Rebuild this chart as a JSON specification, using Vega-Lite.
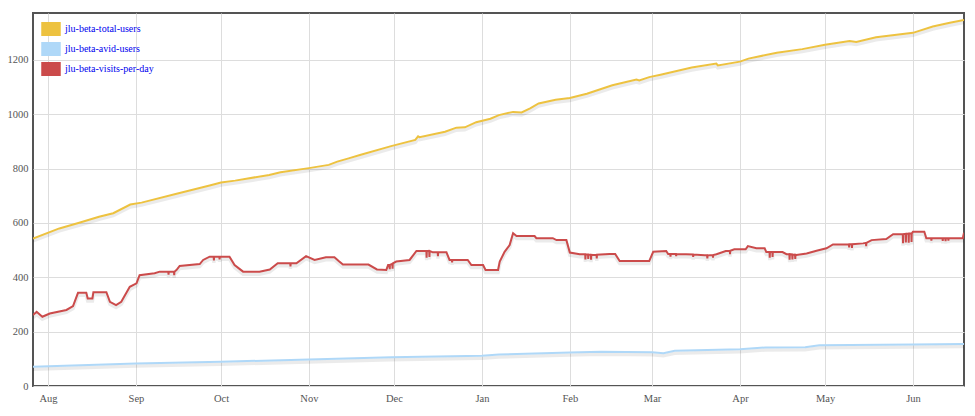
{
  "$schema": "https://vega.github.io/schema/vega-lite/v6.json",
  "width": 931,
  "height": 373,
  "autosize": {"type": "none"},
  "padding": {"left": 33, "top": 13, "right": 11, "bottom": 30},
  "background": "white",
  "config": {
    "view": {"stroke": "#545454", "strokeWidth": 2},
    "axis": {"labelFont": "Liberation Serif, Times New Roman, serif", "labelFontSize": 10.5, "labelColor": "#545454", "gridColor": "#dddddd", "gridWidth": 1, "domain": false, "ticks": false, "title": null}
  },
  "datasets": {
    "series": [
      {"date": "2011-07-26T17:00Z", "series": "jlu-beta-total-users", "value": 543},
      {"date": "2011-08-05", "series": "jlu-beta-total-users", "value": 580},
      {"date": "2011-08-12", "series": "jlu-beta-total-users", "value": 601},
      {"date": "2011-08-19", "series": "jlu-beta-total-users", "value": 623},
      {"date": "2011-08-24", "series": "jlu-beta-total-users", "value": 636},
      {"date": "2011-08-30", "series": "jlu-beta-total-users", "value": 668},
      {"date": "2011-09-03", "series": "jlu-beta-total-users", "value": 675},
      {"date": "2011-09-15", "series": "jlu-beta-total-users", "value": 707},
      {"date": "2011-09-27", "series": "jlu-beta-total-users", "value": 738},
      {"date": "2011-10-01", "series": "jlu-beta-total-users", "value": 749},
      {"date": "2011-10-06", "series": "jlu-beta-total-users", "value": 756},
      {"date": "2011-10-18", "series": "jlu-beta-total-users", "value": 777},
      {"date": "2011-10-22", "series": "jlu-beta-total-users", "value": 787},
      {"date": "2011-11-01", "series": "jlu-beta-total-users", "value": 802},
      {"date": "2011-11-08", "series": "jlu-beta-total-users", "value": 814},
      {"date": "2011-11-11", "series": "jlu-beta-total-users", "value": 826},
      {"date": "2011-11-15", "series": "jlu-beta-total-users", "value": 838},
      {"date": "2011-11-19", "series": "jlu-beta-total-users", "value": 850},
      {"date": "2011-11-30", "series": "jlu-beta-total-users", "value": 883},
      {"date": "2011-12-08T12:00Z", "series": "jlu-beta-total-users", "value": 906},
      {"date": "2011-12-09T12:00Z", "series": "jlu-beta-total-users", "value": 919},
      {"date": "2011-12-10", "series": "jlu-beta-total-users", "value": 916},
      {"date": "2011-12-19", "series": "jlu-beta-total-users", "value": 936},
      {"date": "2011-12-23", "series": "jlu-beta-total-users", "value": 951},
      {"date": "2011-12-26", "series": "jlu-beta-total-users", "value": 952},
      {"date": "2011-12-30", "series": "jlu-beta-total-users", "value": 971},
      {"date": "2012-01-04", "series": "jlu-beta-total-users", "value": 984},
      {"date": "2012-01-07", "series": "jlu-beta-total-users", "value": 997},
      {"date": "2012-01-12", "series": "jlu-beta-total-users", "value": 1009},
      {"date": "2012-01-15", "series": "jlu-beta-total-users", "value": 1007},
      {"date": "2012-01-18", "series": "jlu-beta-total-users", "value": 1022},
      {"date": "2012-01-21", "series": "jlu-beta-total-users", "value": 1040},
      {"date": "2012-01-27", "series": "jlu-beta-total-users", "value": 1054},
      {"date": "2012-02-01", "series": "jlu-beta-total-users", "value": 1060},
      {"date": "2012-02-07", "series": "jlu-beta-total-users", "value": 1076},
      {"date": "2012-02-16", "series": "jlu-beta-total-users", "value": 1107},
      {"date": "2012-02-24T12:00Z", "series": "jlu-beta-total-users", "value": 1128},
      {"date": "2012-02-25T12:00Z", "series": "jlu-beta-total-users", "value": 1125},
      {"date": "2012-02-29", "series": "jlu-beta-total-users", "value": 1137},
      {"date": "2012-03-04", "series": "jlu-beta-total-users", "value": 1146},
      {"date": "2012-03-15", "series": "jlu-beta-total-users", "value": 1172},
      {"date": "2012-03-23T16:00Z", "series": "jlu-beta-total-users", "value": 1187},
      {"date": "2012-03-24T05:00Z", "series": "jlu-beta-total-users", "value": 1180},
      {"date": "2012-04-01", "series": "jlu-beta-total-users", "value": 1194},
      {"date": "2012-04-04", "series": "jlu-beta-total-users", "value": 1205},
      {"date": "2012-04-14", "series": "jlu-beta-total-users", "value": 1227},
      {"date": "2012-04-23", "series": "jlu-beta-total-users", "value": 1240},
      {"date": "2012-05-01", "series": "jlu-beta-total-users", "value": 1256},
      {"date": "2012-05-09T16:00Z", "series": "jlu-beta-total-users", "value": 1270},
      {"date": "2012-05-12", "series": "jlu-beta-total-users", "value": 1266},
      {"date": "2012-05-19", "series": "jlu-beta-total-users", "value": 1284},
      {"date": "2012-06-01", "series": "jlu-beta-total-users", "value": 1300},
      {"date": "2012-06-08", "series": "jlu-beta-total-users", "value": 1323},
      {"date": "2012-06-14", "series": "jlu-beta-total-users", "value": 1337},
      {"date": "2012-06-19", "series": "jlu-beta-total-users", "value": 1347},

      {"date": "2011-07-26T17:00Z", "series": "jlu-beta-avid-users", "value": 71},
      {"date": "2011-09-01", "series": "jlu-beta-avid-users", "value": 83},
      {"date": "2011-10-01", "series": "jlu-beta-avid-users", "value": 89},
      {"date": "2011-11-01", "series": "jlu-beta-avid-users", "value": 98},
      {"date": "2011-11-30", "series": "jlu-beta-avid-users", "value": 106},
      {"date": "2012-01-01", "series": "jlu-beta-avid-users", "value": 111},
      {"date": "2012-01-07", "series": "jlu-beta-avid-users", "value": 116},
      {"date": "2012-02-01", "series": "jlu-beta-avid-users", "value": 123},
      {"date": "2012-02-12", "series": "jlu-beta-avid-users", "value": 126},
      {"date": "2012-03-01", "series": "jlu-beta-avid-users", "value": 124},
      {"date": "2012-03-05", "series": "jlu-beta-avid-users", "value": 121},
      {"date": "2012-03-09", "series": "jlu-beta-avid-users", "value": 130},
      {"date": "2012-04-01", "series": "jlu-beta-avid-users", "value": 135},
      {"date": "2012-04-10", "series": "jlu-beta-avid-users", "value": 142},
      {"date": "2012-04-24", "series": "jlu-beta-avid-users", "value": 143},
      {"date": "2012-04-29", "series": "jlu-beta-avid-users", "value": 150},
      {"date": "2012-06-01", "series": "jlu-beta-avid-users", "value": 153},
      {"date": "2012-06-19", "series": "jlu-beta-avid-users", "value": 155},

      {"date": "2011-07-26T17:00Z", "series": "jlu-beta-visits-per-day", "value": 261},
      {"date": "2011-07-28", "series": "jlu-beta-visits-per-day", "value": 273},
      {"date": "2011-07-30", "series": "jlu-beta-visits-per-day", "value": 255},
      {"date": "2011-08-01T15:00Z", "series": "jlu-beta-visits-per-day", "value": 267},
      {"date": "2011-08-07T12:00Z", "series": "jlu-beta-visits-per-day", "value": 280},
      {"date": "2011-08-09T20:00Z", "series": "jlu-beta-visits-per-day", "value": 294},
      {"date": "2011-08-11T14:00Z", "series": "jlu-beta-visits-per-day", "value": 343},
      {"date": "2011-08-14T12:00Z", "series": "jlu-beta-visits-per-day", "value": 343},
      {"date": "2011-08-15", "series": "jlu-beta-visits-per-day", "value": 322},
      {"date": "2011-08-16T16:00Z", "series": "jlu-beta-visits-per-day", "value": 322},
      {"date": "2011-08-17", "series": "jlu-beta-visits-per-day", "value": 345},
      {"date": "2011-08-21T14:00Z", "series": "jlu-beta-visits-per-day", "value": 345},
      {"date": "2011-08-22T20:00Z", "series": "jlu-beta-visits-per-day", "value": 310},
      {"date": "2011-08-25", "series": "jlu-beta-visits-per-day", "value": 298},
      {"date": "2011-08-26T20:00Z", "series": "jlu-beta-visits-per-day", "value": 310},
      {"date": "2011-08-29T20:00Z", "series": "jlu-beta-visits-per-day", "value": 365},
      {"date": "2011-09-01T05:00Z", "series": "jlu-beta-visits-per-day", "value": 378},
      {"date": "2011-09-02T07:00Z", "series": "jlu-beta-visits-per-day", "value": 408},
      {"date": "2011-09-07T14:00Z", "series": "jlu-beta-visits-per-day", "value": 415},
      {"date": "2011-09-09T10:00Z", "series": "jlu-beta-visits-per-day", "value": 421},
      {"date": "2011-09-12T10:00Z", "series": "jlu-beta-visits-per-day", "value": 421},
      {"date": "2011-09-12T12:00Z", "series": "jlu-beta-visits-per-day", "value": 410},
      {"date": "2011-09-12T14:00Z", "series": "jlu-beta-visits-per-day", "value": 421},
      {"date": "2011-09-14T10:00Z", "series": "jlu-beta-visits-per-day", "value": 421},
      {"date": "2011-09-14T12:00Z", "series": "jlu-beta-visits-per-day", "value": 408},
      {"date": "2011-09-14T14:00Z", "series": "jlu-beta-visits-per-day", "value": 421},
      {"date": "2011-09-15T07:00Z", "series": "jlu-beta-visits-per-day", "value": 427},
      {"date": "2011-09-16T10:00Z", "series": "jlu-beta-visits-per-day", "value": 442},
      {"date": "2011-09-23T12:00Z", "series": "jlu-beta-visits-per-day", "value": 449},
      {"date": "2011-09-24T17:00Z", "series": "jlu-beta-visits-per-day", "value": 464},
      {"date": "2011-09-27", "series": "jlu-beta-visits-per-day", "value": 476},
      {"date": "2011-09-28T10:00Z", "series": "jlu-beta-visits-per-day", "value": 476},
      {"date": "2011-09-28T12:00Z", "series": "jlu-beta-visits-per-day", "value": 462},
      {"date": "2011-09-28T14:00Z", "series": "jlu-beta-visits-per-day", "value": 476},
      {"date": "2011-09-30T10:00Z", "series": "jlu-beta-visits-per-day", "value": 476},
      {"date": "2011-09-30T12:00Z", "series": "jlu-beta-visits-per-day", "value": 466},
      {"date": "2011-09-30T14:00Z", "series": "jlu-beta-visits-per-day", "value": 476},
      {"date": "2011-10-04", "series": "jlu-beta-visits-per-day", "value": 476},
      {"date": "2011-10-05T19:00Z", "series": "jlu-beta-visits-per-day", "value": 445},
      {"date": "2011-10-08T19:00Z", "series": "jlu-beta-visits-per-day", "value": 421},
      {"date": "2011-10-14T14:00Z", "series": "jlu-beta-visits-per-day", "value": 421},
      {"date": "2011-10-18T05:00Z", "series": "jlu-beta-visits-per-day", "value": 429},
      {"date": "2011-10-21", "series": "jlu-beta-visits-per-day", "value": 452},
      {"date": "2011-10-25T10:00Z", "series": "jlu-beta-visits-per-day", "value": 452},
      {"date": "2011-10-25T12:00Z", "series": "jlu-beta-visits-per-day", "value": 440},
      {"date": "2011-10-25T14:00Z", "series": "jlu-beta-visits-per-day", "value": 452},
      {"date": "2011-10-27T14:00Z", "series": "jlu-beta-visits-per-day", "value": 452},
      {"date": "2011-10-31", "series": "jlu-beta-visits-per-day", "value": 478},
      {"date": "2011-11-03", "series": "jlu-beta-visits-per-day", "value": 464},
      {"date": "2011-11-07", "series": "jlu-beta-visits-per-day", "value": 474},
      {"date": "2011-11-10", "series": "jlu-beta-visits-per-day", "value": 474},
      {"date": "2011-11-11T12:00Z", "series": "jlu-beta-visits-per-day", "value": 460},
      {"date": "2011-11-13", "series": "jlu-beta-visits-per-day", "value": 447},
      {"date": "2011-11-22", "series": "jlu-beta-visits-per-day", "value": 447},
      {"date": "2011-11-25", "series": "jlu-beta-visits-per-day", "value": 429},
      {"date": "2011-11-28T07:00Z", "series": "jlu-beta-visits-per-day", "value": 427},
      {"date": "2011-11-28T22:00Z", "series": "jlu-beta-visits-per-day", "value": 445},
      {"date": "2011-11-29T10:00Z", "series": "jlu-beta-visits-per-day", "value": 445},
      {"date": "2011-11-29T12:00Z", "series": "jlu-beta-visits-per-day", "value": 430},
      {"date": "2011-11-29T14:00Z", "series": "jlu-beta-visits-per-day", "value": 446},
      {"date": "2011-11-30T10:00Z", "series": "jlu-beta-visits-per-day", "value": 450},
      {"date": "2011-11-30T12:00Z", "series": "jlu-beta-visits-per-day", "value": 432},
      {"date": "2011-11-30T14:00Z", "series": "jlu-beta-visits-per-day", "value": 451},
      {"date": "2011-12-01T19:00Z", "series": "jlu-beta-visits-per-day", "value": 458},
      {"date": "2011-12-06T12:00Z", "series": "jlu-beta-visits-per-day", "value": 464},
      {"date": "2011-12-08T22:00Z", "series": "jlu-beta-visits-per-day", "value": 497},
      {"date": "2011-12-12T10:00Z", "series": "jlu-beta-visits-per-day", "value": 497},
      {"date": "2011-12-12T12:00Z", "series": "jlu-beta-visits-per-day", "value": 472},
      {"date": "2011-12-12T14:00Z", "series": "jlu-beta-visits-per-day", "value": 497},
      {"date": "2011-12-13T10:00Z", "series": "jlu-beta-visits-per-day", "value": 497},
      {"date": "2011-12-13T12:00Z", "series": "jlu-beta-visits-per-day", "value": 475},
      {"date": "2011-12-13T14:00Z", "series": "jlu-beta-visits-per-day", "value": 497},
      {"date": "2011-12-14T17:00Z", "series": "jlu-beta-visits-per-day", "value": 492},
      {"date": "2011-12-16T10:00Z", "series": "jlu-beta-visits-per-day", "value": 492},
      {"date": "2011-12-16T12:00Z", "series": "jlu-beta-visits-per-day", "value": 478},
      {"date": "2011-12-16T14:00Z", "series": "jlu-beta-visits-per-day", "value": 492},
      {"date": "2011-12-19T12:00Z", "series": "jlu-beta-visits-per-day", "value": 492},
      {"date": "2011-12-20T14:00Z", "series": "jlu-beta-visits-per-day", "value": 464},
      {"date": "2011-12-21T10:00Z", "series": "jlu-beta-visits-per-day", "value": 464},
      {"date": "2011-12-21T12:00Z", "series": "jlu-beta-visits-per-day", "value": 455},
      {"date": "2011-12-21T14:00Z", "series": "jlu-beta-visits-per-day", "value": 464},
      {"date": "2011-12-27", "series": "jlu-beta-visits-per-day", "value": 464},
      {"date": "2011-12-28T07:00Z", "series": "jlu-beta-visits-per-day", "value": 445},
      {"date": "2012-01-01T10:00Z", "series": "jlu-beta-visits-per-day", "value": 445},
      {"date": "2012-01-02T07:00Z", "series": "jlu-beta-visits-per-day", "value": 427},
      {"date": "2012-01-06T17:00Z", "series": "jlu-beta-visits-per-day", "value": 427},
      {"date": "2012-01-07T07:00Z", "series": "jlu-beta-visits-per-day", "value": 458},
      {"date": "2012-01-09", "series": "jlu-beta-visits-per-day", "value": 494},
      {"date": "2012-01-10T19:00Z", "series": "jlu-beta-visits-per-day", "value": 519},
      {"date": "2012-01-12", "series": "jlu-beta-visits-per-day", "value": 562},
      {"date": "2012-01-13T05:00Z", "series": "jlu-beta-visits-per-day", "value": 552},
      {"date": "2012-01-19T14:00Z", "series": "jlu-beta-visits-per-day", "value": 552},
      {"date": "2012-01-20T05:00Z", "series": "jlu-beta-visits-per-day", "value": 544},
      {"date": "2012-01-26", "series": "jlu-beta-visits-per-day", "value": 544},
      {"date": "2012-01-27T07:00Z", "series": "jlu-beta-visits-per-day", "value": 537},
      {"date": "2012-01-30T19:00Z", "series": "jlu-beta-visits-per-day", "value": 537},
      {"date": "2012-02-01", "series": "jlu-beta-visits-per-day", "value": 491},
      {"date": "2012-02-04T12:00Z", "series": "jlu-beta-visits-per-day", "value": 485},
      {"date": "2012-02-06T10:00Z", "series": "jlu-beta-visits-per-day", "value": 485},
      {"date": "2012-02-06T12:00Z", "series": "jlu-beta-visits-per-day", "value": 466},
      {"date": "2012-02-06T14:00Z", "series": "jlu-beta-visits-per-day", "value": 485},
      {"date": "2012-02-07T10:00Z", "series": "jlu-beta-visits-per-day", "value": 484},
      {"date": "2012-02-07T12:00Z", "series": "jlu-beta-visits-per-day", "value": 468},
      {"date": "2012-02-07T14:00Z", "series": "jlu-beta-visits-per-day", "value": 484},
      {"date": "2012-02-08T10:00Z", "series": "jlu-beta-visits-per-day", "value": 483},
      {"date": "2012-02-08T12:00Z", "series": "jlu-beta-visits-per-day", "value": 465},
      {"date": "2012-02-08T14:00Z", "series": "jlu-beta-visits-per-day", "value": 483},
      {"date": "2012-02-09T05:00Z", "series": "jlu-beta-visits-per-day", "value": 482},
      {"date": "2012-02-10T10:00Z", "series": "jlu-beta-visits-per-day", "value": 483},
      {"date": "2012-02-10T12:00Z", "series": "jlu-beta-visits-per-day", "value": 470},
      {"date": "2012-02-10T14:00Z", "series": "jlu-beta-visits-per-day", "value": 483},
      {"date": "2012-02-15", "series": "jlu-beta-visits-per-day", "value": 486},
      {"date": "2012-02-17", "series": "jlu-beta-visits-per-day", "value": 486},
      {"date": "2012-02-18T14:00Z", "series": "jlu-beta-visits-per-day", "value": 460},
      {"date": "2012-02-29", "series": "jlu-beta-visits-per-day", "value": 460},
      {"date": "2012-03-01T10:00Z", "series": "jlu-beta-visits-per-day", "value": 494},
      {"date": "2012-03-06", "series": "jlu-beta-visits-per-day", "value": 497},
      {"date": "2012-03-06T16:00Z", "series": "jlu-beta-visits-per-day", "value": 486},
      {"date": "2012-03-07T10:00Z", "series": "jlu-beta-visits-per-day", "value": 486},
      {"date": "2012-03-07T12:00Z", "series": "jlu-beta-visits-per-day", "value": 476},
      {"date": "2012-03-07T14:00Z", "series": "jlu-beta-visits-per-day", "value": 486},
      {"date": "2012-03-09T10:00Z", "series": "jlu-beta-visits-per-day", "value": 486},
      {"date": "2012-03-09T12:00Z", "series": "jlu-beta-visits-per-day", "value": 478},
      {"date": "2012-03-09T14:00Z", "series": "jlu-beta-visits-per-day", "value": 486},
      {"date": "2012-03-13", "series": "jlu-beta-visits-per-day", "value": 485},
      {"date": "2012-03-15T10:00Z", "series": "jlu-beta-visits-per-day", "value": 484},
      {"date": "2012-03-15T12:00Z", "series": "jlu-beta-visits-per-day", "value": 475},
      {"date": "2012-03-15T14:00Z", "series": "jlu-beta-visits-per-day", "value": 484},
      {"date": "2012-03-19T14:00Z", "series": "jlu-beta-visits-per-day", "value": 481},
      {"date": "2012-03-20T10:00Z", "series": "jlu-beta-visits-per-day", "value": 481},
      {"date": "2012-03-20T12:00Z", "series": "jlu-beta-visits-per-day", "value": 470},
      {"date": "2012-03-20T14:00Z", "series": "jlu-beta-visits-per-day", "value": 481},
      {"date": "2012-03-22T10:00Z", "series": "jlu-beta-visits-per-day", "value": 482},
      {"date": "2012-03-22T12:00Z", "series": "jlu-beta-visits-per-day", "value": 472},
      {"date": "2012-03-22T14:00Z", "series": "jlu-beta-visits-per-day", "value": 482},
      {"date": "2012-03-23T17:00Z", "series": "jlu-beta-visits-per-day", "value": 485},
      {"date": "2012-03-27", "series": "jlu-beta-visits-per-day", "value": 497},
      {"date": "2012-03-28T10:00Z", "series": "jlu-beta-visits-per-day", "value": 498},
      {"date": "2012-03-28T12:00Z", "series": "jlu-beta-visits-per-day", "value": 485},
      {"date": "2012-03-28T14:00Z", "series": "jlu-beta-visits-per-day", "value": 498},
      {"date": "2012-03-30", "series": "jlu-beta-visits-per-day", "value": 503},
      {"date": "2012-04-03", "series": "jlu-beta-visits-per-day", "value": 503},
      {"date": "2012-04-03T19:00Z", "series": "jlu-beta-visits-per-day", "value": 515},
      {"date": "2012-04-06T19:00Z", "series": "jlu-beta-visits-per-day", "value": 507},
      {"date": "2012-04-09T17:00Z", "series": "jlu-beta-visits-per-day", "value": 507},
      {"date": "2012-04-10T07:00Z", "series": "jlu-beta-visits-per-day", "value": 493},
      {"date": "2012-04-11T10:00Z", "series": "jlu-beta-visits-per-day", "value": 493},
      {"date": "2012-04-11T12:00Z", "series": "jlu-beta-visits-per-day", "value": 472},
      {"date": "2012-04-11T14:00Z", "series": "jlu-beta-visits-per-day", "value": 493},
      {"date": "2012-04-12T10:00Z", "series": "jlu-beta-visits-per-day", "value": 493},
      {"date": "2012-04-12T12:00Z", "series": "jlu-beta-visits-per-day", "value": 475},
      {"date": "2012-04-12T14:00Z", "series": "jlu-beta-visits-per-day", "value": 493},
      {"date": "2012-04-16", "series": "jlu-beta-visits-per-day", "value": 493},
      {"date": "2012-04-17T10:00Z", "series": "jlu-beta-visits-per-day", "value": 485},
      {"date": "2012-04-18T10:00Z", "series": "jlu-beta-visits-per-day", "value": 485},
      {"date": "2012-04-18T12:00Z", "series": "jlu-beta-visits-per-day", "value": 465},
      {"date": "2012-04-18T14:00Z", "series": "jlu-beta-visits-per-day", "value": 485},
      {"date": "2012-04-19T10:00Z", "series": "jlu-beta-visits-per-day", "value": 484},
      {"date": "2012-04-19T12:00Z", "series": "jlu-beta-visits-per-day", "value": 466},
      {"date": "2012-04-19T14:00Z", "series": "jlu-beta-visits-per-day", "value": 484},
      {"date": "2012-04-20T10:00Z", "series": "jlu-beta-visits-per-day", "value": 483},
      {"date": "2012-04-20T12:00Z", "series": "jlu-beta-visits-per-day", "value": 468},
      {"date": "2012-04-20T14:00Z", "series": "jlu-beta-visits-per-day", "value": 483},
      {"date": "2012-04-20T22:00Z", "series": "jlu-beta-visits-per-day", "value": 482},
      {"date": "2012-04-24T12:00Z", "series": "jlu-beta-visits-per-day", "value": 488},
      {"date": "2012-04-28", "series": "jlu-beta-visits-per-day", "value": 498},
      {"date": "2012-05-01T12:00Z", "series": "jlu-beta-visits-per-day", "value": 507},
      {"date": "2012-05-03T19:00Z", "series": "jlu-beta-visits-per-day", "value": 521},
      {"date": "2012-05-09T10:00Z", "series": "jlu-beta-visits-per-day", "value": 522},
      {"date": "2012-05-09T12:00Z", "series": "jlu-beta-visits-per-day", "value": 510},
      {"date": "2012-05-09T14:00Z", "series": "jlu-beta-visits-per-day", "value": 522},
      {"date": "2012-05-10T10:00Z", "series": "jlu-beta-visits-per-day", "value": 522},
      {"date": "2012-05-10T12:00Z", "series": "jlu-beta-visits-per-day", "value": 508},
      {"date": "2012-05-10T14:00Z", "series": "jlu-beta-visits-per-day", "value": 522},
      {"date": "2012-05-14T10:00Z", "series": "jlu-beta-visits-per-day", "value": 525},
      {"date": "2012-05-15T10:00Z", "series": "jlu-beta-visits-per-day", "value": 527},
      {"date": "2012-05-15T12:00Z", "series": "jlu-beta-visits-per-day", "value": 515},
      {"date": "2012-05-15T14:00Z", "series": "jlu-beta-visits-per-day", "value": 527},
      {"date": "2012-05-17T10:00Z", "series": "jlu-beta-visits-per-day", "value": 537},
      {"date": "2012-05-22T14:00Z", "series": "jlu-beta-visits-per-day", "value": 541},
      {"date": "2012-05-25", "series": "jlu-beta-visits-per-day", "value": 559},
      {"date": "2012-05-28T10:00Z", "series": "jlu-beta-visits-per-day", "value": 559},
      {"date": "2012-05-28T12:00Z", "series": "jlu-beta-visits-per-day", "value": 526},
      {"date": "2012-05-28T14:00Z", "series": "jlu-beta-visits-per-day", "value": 559},
      {"date": "2012-05-29T10:00Z", "series": "jlu-beta-visits-per-day", "value": 560},
      {"date": "2012-05-29T12:00Z", "series": "jlu-beta-visits-per-day", "value": 528},
      {"date": "2012-05-29T14:00Z", "series": "jlu-beta-visits-per-day", "value": 560},
      {"date": "2012-05-30T10:00Z", "series": "jlu-beta-visits-per-day", "value": 561},
      {"date": "2012-05-30T12:00Z", "series": "jlu-beta-visits-per-day", "value": 527},
      {"date": "2012-05-30T14:00Z", "series": "jlu-beta-visits-per-day", "value": 561},
      {"date": "2012-05-31T10:00Z", "series": "jlu-beta-visits-per-day", "value": 562},
      {"date": "2012-05-31T12:00Z", "series": "jlu-beta-visits-per-day", "value": 530},
      {"date": "2012-05-31T14:00Z", "series": "jlu-beta-visits-per-day", "value": 562},
      {"date": "2012-06-01", "series": "jlu-beta-visits-per-day", "value": 568},
      {"date": "2012-06-05", "series": "jlu-beta-visits-per-day", "value": 568},
      {"date": "2012-06-05T17:00Z", "series": "jlu-beta-visits-per-day", "value": 544},
      {"date": "2012-06-07T10:00Z", "series": "jlu-beta-visits-per-day", "value": 544},
      {"date": "2012-06-07T12:00Z", "series": "jlu-beta-visits-per-day", "value": 535},
      {"date": "2012-06-07T14:00Z", "series": "jlu-beta-visits-per-day", "value": 544},
      {"date": "2012-06-11T10:00Z", "series": "jlu-beta-visits-per-day", "value": 544},
      {"date": "2012-06-11T12:00Z", "series": "jlu-beta-visits-per-day", "value": 534},
      {"date": "2012-06-11T14:00Z", "series": "jlu-beta-visits-per-day", "value": 544},
      {"date": "2012-06-12T10:00Z", "series": "jlu-beta-visits-per-day", "value": 544},
      {"date": "2012-06-12T12:00Z", "series": "jlu-beta-visits-per-day", "value": 533},
      {"date": "2012-06-12T14:00Z", "series": "jlu-beta-visits-per-day", "value": 544},
      {"date": "2012-06-13T10:00Z", "series": "jlu-beta-visits-per-day", "value": 544},
      {"date": "2012-06-13T12:00Z", "series": "jlu-beta-visits-per-day", "value": 535},
      {"date": "2012-06-13T14:00Z", "series": "jlu-beta-visits-per-day", "value": 544},
      {"date": "2012-06-18T14:00Z", "series": "jlu-beta-visits-per-day", "value": 544},
      {"date": "2012-06-19", "series": "jlu-beta-visits-per-day", "value": 564}
    ]
  },
  "data": {"name": "series"},
  "encoding": {
    "x": {
      "field": "date", "type": "temporal",
      "scale": {"type": "utc", "domain": [{"year": 2011, "month": 7, "date": 26, "hours": 17, "utc": true}, {"year": 2012, "month": 6, "date": 19, "hours": 0, "utc": true}]},
      "axis": {
        "values": [
          {"year": 2011, "month": 8, "date": 1, "utc": true},
          {"year": 2011, "month": 9, "date": 1, "utc": true},
          {"year": 2011, "month": 10, "date": 1, "utc": true},
          {"year": 2011, "month": 11, "date": 1, "utc": true},
          {"year": 2011, "month": 12, "date": 1, "utc": true},
          {"year": 2012, "month": 1, "date": 1, "utc": true},
          {"year": 2012, "month": 2, "date": 1, "utc": true},
          {"year": 2012, "month": 3, "date": 1, "utc": true},
          {"year": 2012, "month": 4, "date": 1, "utc": true},
          {"year": 2012, "month": 5, "date": 1, "utc": true},
          {"year": 2012, "month": 6, "date": 1, "utc": true}
        ],
        "format": "%b", "labelPadding": 7, "labelFlush": false, "labelOverlap": false
      }
    },
    "y": {
      "field": "value", "type": "quantitative",
      "scale": {"domain": [0, 1373], "nice": false, "zero": true},
      "axis": {"values": [0, 200, 400, 600, 800, 1000, 1200], "format": "d", "labelPadding": 5, "labelFlush": false}
    }
  },
  "layer": [
    {
      "mark": {"type": "line", "stroke": "#000000", "strokeOpacity": 0.08, "strokeWidth": 3.5, "yOffset": 2.5, "clip": true},
      "encoding": {"detail": {"field": "series"}}
    },
    {
      "mark": {"type": "line", "strokeWidth": 2, "clip": true},
      "encoding": {
        "color": {
          "field": "series", "type": "nominal",
          "scale": {"domain": ["jlu-beta-total-users", "jlu-beta-avid-users", "jlu-beta-visits-per-day"], "range": ["#edc240", "#afd8f8", "#cb4b4b"]},
          "legend": {
            "title": null, "orient": "none", "legendX": 8, "legendY": 6,
            "symbolType": "M-1,-0.7H1V0.7H-1Z", "symbolSize": 324,
            "labelFont": "Liberation Serif, Times New Roman, serif", "labelFontSize": 10, "labelColor": "#0000ee",
            "labelOffset": 4, "rowPadding": 0, "padding": 0,
            "encode": {"symbols": {"update": {"fill": {"scale": "color", "field": "value"}, "stroke": {"value": "#cccccc"}, "strokeWidth": {"value": 1.5}, "opacity": {"value": 1}}}}
          }
        }
      }
    }
  ]
}
